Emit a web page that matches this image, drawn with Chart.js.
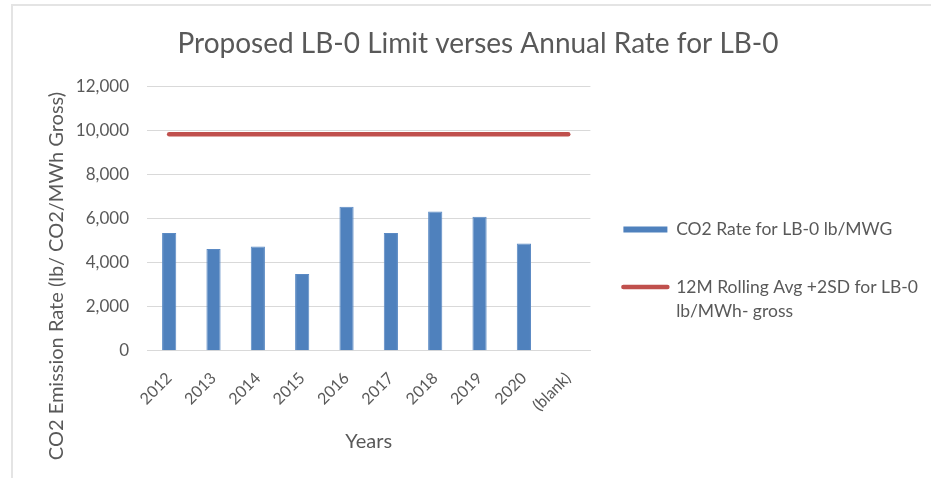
<!DOCTYPE html>
<html>
<head>
<meta charset="utf-8">
<script src="https://cdn.jsdelivr.net/npm/chart.js@4/dist/chart.umd.min.js"></script>
<style>
html, body { margin: 0; padding: 0; background: #fff; }
#wrap { position: relative; width: 931px; height: 478px; }
#marco { position: absolute; left: 11px; top: 4px; right: 0; bottom: 0; border-left: 2px solid #e4e4e4; border-top: 2px solid #e4e4e4; pointer-events: none; }
</style>
</head>
<body>
<div id="wrap">
  <canvas id="migrafico" width="931" height="478"></canvas>
  <div id="marco"></div>
</div>
<script>
// datos
const anios = ["2012", "2013", "2014", "2015", "2016", "2017", "2018", "2019", "2020", "(blank)"];
const tasaCO2 = [5350, 4620, 4730, 3480, 6540, 5350, 6330, 6090, 4870, null];
const limiteLB0 = [9840, 9840, 9840, 9840, 9840, 9840, 9840, 9840, 9840, 9840];
const nombreTasa = "CO2 Rate for LB-0 lb/MWG";
const nombreLimite = ["12M Rolling Avg +2SD for LB-0", "lb/MWh- gross"];
const tituloEjeY = "CO2 Emission Rate (lb/ CO2/MWh Gross)";

const gris = "#595959";
const fuente = "Lato";

// titulo del eje Y dibujado a mano (centrado como en Excel)
const tituloY = {
    id: "tituloY",
    afterDraw(chart) {
        const ctx = chart.ctx;
        ctx.save();
        ctx.translate(57, 276);
        ctx.rotate(-Math.PI / 2);
        ctx.font = "20px " + fuente;
        ctx.fillStyle = gris;
        ctx.textAlign = "center";
        ctx.textBaseline = "middle";
        ctx.fillText(tituloEjeY, 0, 0);
        ctx.restore();
    }
};

const migrafico = document.getElementById("migrafico").getContext("2d");
const generaGrafico = new Chart(migrafico, {
    type: "bar",
    data: {
        labels: anios,
        datasets: [
            {
                label: nombreTasa,
                data: tasaCO2,
                backgroundColor: "#4f81bd",
                borderColor: "#5b8ac4",
                borderWidth: 1,
                barPercentage: 0.32,
                categoryPercentage: 1,
                order: 2
            },
            {
                type: "line",
                label: nombreLimite.join(" "),
                data: limiteLB0,
                borderColor: "#c0504d",
                backgroundColor: "#c0504d",
                borderWidth: 4.5,
                borderCapStyle: "round",
                pointRadius: 0,
                order: 1
            }
        ]
    },
    options: {
        responsive: false,
        animation: false,
        layout: { padding: { left: 28, right: 3, top: 0, bottom: 24 } },
        plugins: {
            title: {
                display: true,
                text: "Proposed LB-0 Limit verses Annual Rate for LB-0",
                color: gris,
                font: { family: fuente, size: 28, weight: "normal", lineHeight: 1.2 },
                padding: { top: 27, bottom: 26 }
            },
            legend: {
                position: "right",
                align: "center",
                maxWidth: 400,
                title: { display: true, text: " ", color: "rgba(0,0,0,0)", font: { size: 15, lineHeight: 1.2 }, padding: 38 },
                labels: {
                    usePointStyle: true,
                    pointStyleWidth: 44,
                    boxHeight: 6,
                    padding: 33,
                    color: gris,
                    font: { family: fuente, size: 17.5, lineHeight: 1.4 },
                    generateLabels: function (chart) {
                        return [
                            { text: [nombreTasa], fontColor: gris, fillStyle: "#4f81bd", strokeStyle: "#4f81bd", lineWidth: 0, pointStyle: "rect", datasetIndex: 0 },
                            { text: nombreLimite, fontColor: gris, fillStyle: "#c0504d", strokeStyle: "#c0504d", lineWidth: 4.5, lineCap: "round", pointStyle: "line", datasetIndex: 1 }
                        ];
                    }
                }
            },
            tooltip: { enabled: false }
        },
        scales: {
            x: {
                grid: { display: false },
                border: { display: true, color: "#d9d9d9" },
                ticks: { color: gris, font: { family: fuente, size: 16 }, autoSkip: false, minRotation: 45, maxRotation: 45, padding: 10 },
                title: { display: true, text: "Years", color: gris, font: { family: fuente, size: 20 }, padding: { top: 5, bottom: 0 } }
            },
            y: {
                min: 0,
                max: 12000,
                afterFit: function (escala) { escala.width = 119; },
                grid: { color: "#d9d9d9", lineWidth: 1, drawTicks: false },
                border: { display: false },
                ticks: {
                    stepSize: 2000,
                    padding: 18,
                    color: gris,
                    font: { family: fuente, size: 17 },
                    callback: function (v) { return v.toLocaleString("en-US"); }
                }
            }
        }
    },
    plugins: [tituloY]
});
</script>
</body>
</html>
